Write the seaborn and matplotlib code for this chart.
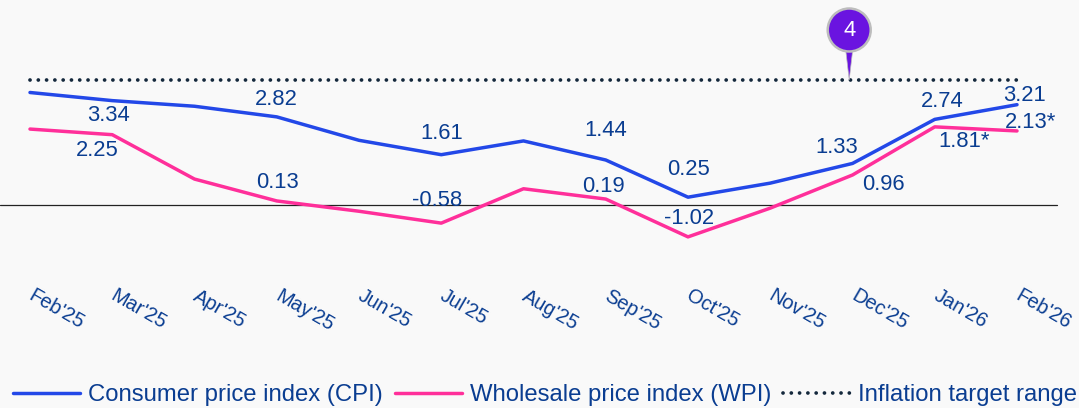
import pandas as pd
import matplotlib
matplotlib.use("Agg")
import matplotlib.pyplot as plt
import seaborn as sns
from matplotlib.patches import Circle, Polygon
from matplotlib.transforms import Affine2D

months = ["Feb'25", "Mar'25", "Apr'25", "May'25", "Jun'25", "Jul'25", "Aug'25",
          "Sep'25", "Oct'25", "Nov'25", "Dec'25", "Jan'26", "Feb'26"]
cpi = [3.60, 3.34, 3.16, 2.82, 2.07, 1.61, 2.05, 1.44, 0.25, 0.70, 1.33, 2.74, 3.21]
wpi = [2.43, 2.25, 0.83, 0.13, -0.20, -0.58, 0.52, 0.19, -1.02, -0.10, 0.96, 2.50, 2.37]
target = [4] * 13

cpi_labels = {1: "3.34", 3: "2.82", 5: "1.61", 7: "1.44", 8: "0.25", 10: "1.33", 11: "2.74", 12: "3.21"}
wpi_labels = {1: "2.25", 3: "0.13", 5: "-0.58", 7: "0.19", 8: "-1.02", 10: "0.96", 11: "1.81*", 12: "2.13*"}

# label offsets from the point, in pixels (x right, y up)
cpi_offsets = {1: (-4, -15), 3: (0, 17), 5: (1, 21), 7: (0, 30), 8: (1, 28), 10: (-16, 16), 11: (8, 18), 12: (7, 9)}
wpi_offsets = {1: (-15, -16), 3: (1, 18), 5: (-4, 23), 7: (-2, 13), 8: (1, 18), 10: (31, -9), 11: (29, -15), 12: (14, 8)}

pin_month = 9.96
pin_value = 4

BG = "#f9f9f9"
TEXT = "#0a3d91"
FS = 15.8

sns.set_theme(style="white")
plt.rcParams["font.family"] = ["Liberation Sans", "DejaVu Sans"]

df = pd.DataFrame({"month": list(range(len(months))) * 3,
                   "value": cpi + wpi + target,
                   "series": ["Consumer price index (CPI)"] * 13 + ["Wholesale price index (WPI)"] * 13
                             + ["Inflation target range"] * 13})

W, H = 1079, 408
fig = plt.figure(figsize=(W / 100, H / 100), dpi=100, facecolor=BG)
ax = fig.add_axes([0, 1 - 278 / H, 1, 278 / H], facecolor=BG)

sns.lineplot(data=df[df.series != "Inflation target range"], x="month", y="value", hue="series",
             palette=["#2348e8", "#ff2f9a"], linewidth=2.5, ax=ax, zorder=3, legend=False)
ax.lines[0].set_solid_capstyle("round")
ax.lines[1].set_solid_capstyle("round")
tgt = df[df.series == "Inflation target range"]
dots, = ax.plot(tgt.month, tgt.value, color="#14283c", lw=2.7, ls=(0, (0.01, 2.2)),
                dash_capstyle="round", zorder=2)

ax.set_xlim(-30 / 82.25, (W - 30) / 82.25)
ax.set_ylim((205 - 278) / 31.25, 205 / 31.25)
ax.plot([-30 / 82.25, (1057 - 30) / 82.25], [0, 0], color="#222222", lw=0.9, zorder=1)

for vals, labels, offs in [(cpi, cpi_labels, cpi_offsets), (wpi, wpi_labels, wpi_offsets)]:
    for i, txt in labels.items():
        ax.annotate(txt, (i, vals[i]), xytext=offs[i], textcoords="offset pixels",
                    ha="center", va="center", color=TEXT, fontsize=FS, zorder=5)

# pin on the target line
fig.canvas.draw()
px, py = ax.transData.transform((pin_month, pin_value))
pin = Affine2D().translate(px, py)
ax.add_patch(Polygon([(-3.5, 30), (3.5, 30), (0, 0)], closed=True, transform=pin, facecolor="#6a14e0",
                     edgecolor="#bdbdbd", lw=0.5, zorder=6, clip_on=False))
ax.add_patch(Circle((0, 50), 21.5, transform=pin, facecolor="#6a14e0", edgecolor="#bdbdbd",
                    lw=1.8, zorder=7, clip_on=False))
ax.text(0, 50, str(pin_value), transform=pin, color="white", fontsize=FS, ha="center", va="center",
        zorder=8)

ax.set_xticks(range(len(months)))
ax.set_xticklabels(months, rotation=-30, ha="left", va="top", rotation_mode="anchor",
                   color=TEXT, fontsize=14.4)
ax.tick_params(axis="x", length=0, pad=6)
# tick_params resets the label transforms, so nudge them afterwards
for lab in ax.get_xticklabels():
    lab.set_transform(lab.get_transform() + Affine2D().translate(5, 0))
ax.set_yticks([])
ax.set_xlabel("")
ax.set_ylabel("")
sns.despine(ax=ax, left=True, bottom=True, top=True, right=True)

handles = [ax.lines[0], ax.lines[1], dots]
names = ["Consumer price index (CPI)", "Wholesale price index (WPI)", "Inflation target range"]
leg = fig.legend(handles, names, ncol=3, loc="center", bbox_to_anchor=(545 / W, 1 - 395 / H),
                 frameon=False, fontsize=17.2, handlelength=2.8, handletextpad=0.33,
                 columnspacing=0.5, borderpad=0, borderaxespad=0)
for t in leg.get_texts():
    t.set_color(TEXT)

fig.savefig("out.png", dpi=100, facecolor=BG)
